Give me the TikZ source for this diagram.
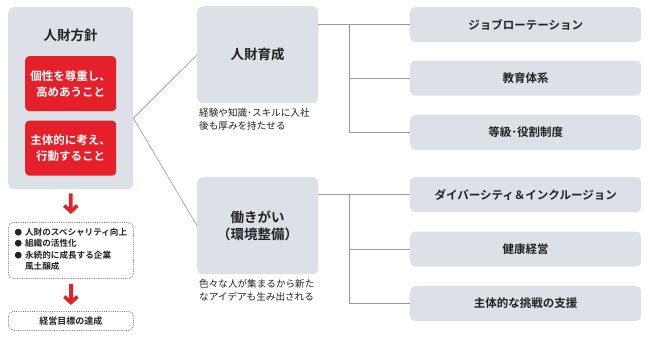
\documentclass[tikz,border=0pt]{standalone}
\usepackage{fontspec}
\setmainfont{Noto Sans CJK JP}[BoldFont={Noto Sans CJK JP Bold}]
\usetikzlibrary{positioning}
\usetikzlibrary{arrows.meta}

\definecolor{panelgray}{HTML}{DCE1E7}
\definecolor{policyred}{HTML}{E5202A}
\definecolor{linegray}{HTML}{9A9A9A}
\definecolor{textdark}{HTML}{222222}

\tikzset{
  panel/.style={fill=panelgray, rounded corners=6pt, inner sep=0pt, text=textdark},
  redbox/.style={fill=policyred, rounded corners=4pt, inner sep=0pt, text=white,
    minimum width=91pt, minimum height=55pt, align=center,
    font=\bfseries\fontsize{11.5}{16}\selectfont},
  itembox/.style={panel, rounded corners=5pt, minimum width=231pt, minimum height=35pt,
    font=\bfseries\fontsize{11.5}{14}\selectfont},
  dotbox/.style={draw=gray, densely dotted, line width=0.8pt, rounded corners=5pt,
    minimum width=125pt, inner sep=0pt, text=textdark},
  caption/.style={align=left, inner sep=0pt, text=textdark,
    font=\fontsize{9.6}{13}\selectfont},
  branch/.style={draw=linegray, line width=0.8pt},
  redarrow/.style={draw=policyred, line width=3.6pt, -{Straight Barb[length=6pt,width=13pt]}}
}

\begin{document}
\begin{tikzpicture}[x=1pt,y=-1pt]
\useasboundingbox (0,0) rectangle (648,339);

% left column: policy
\node[panel, minimum width=125pt, minimum height=182pt, anchor=north west] (policy) at (8,7) {};
\node[font=\bfseries\fontsize{13.5}{16}\selectfont, text=textdark] (policytitle) at (70.5,35) {人財方針};
\node[redbox, anchor=north west] (respect) at (25,56) {個性を尊重し、\\高めあうこと};
\node[redbox, below=9pt of respect] (initiative) {主体的に考え、\\行動すること};

% outcomes
\node[dotbox, minimum height=56pt, anchor=north west,
      font=\bfseries\fontsize{8.6}{11.5}\selectfont] (results) at (8,222) {%
  \begin{tabular}{@{}l@{\hspace{3pt}}l@{}}
  {\fontsize{7.5}{7}\selectfont ●} & 人財のスペシャリティ向上\\
  {\fontsize{7.5}{7}\selectfont ●} & 組織の活性化\\
  {\fontsize{7.5}{7}\selectfont ●} & 永続的に成長する企業\\
   & 風土醸成
  \end{tabular}};
\node[dotbox, minimum height=19pt, anchor=north west,
      font=\bfseries\fontsize{9}{11}\selectfont] (goal) at (8,311) {経営目標の達成};

\draw[redarrow, shorten <=4pt, shorten >=8pt] (policy.south) -- (results.north);
\draw[redarrow, shorten <=5pt, shorten >=6pt] (results.south) -- (goal.north);

% middle column
\node[panel, minimum width=121pt, minimum height=97pt, anchor=north west,
      font=\bfseries\fontsize{13.5}{16}\selectfont] (growth) at (197,6) {人財育成};
\node[caption, below right=5pt and 2pt of growth.south west, anchor=north west] (growthnote)
    {経験や知識･スキルに入社\\後も厚みを持たせる};
\node[panel, minimum width=121pt, minimum height=97pt, anchor=north west, align=center,
      font=\bfseries\fontsize{13.5}{17}\selectfont] (workplace) at (197,177) {働きがい\\（環境整備）};
\node[caption, below right=5pt and 2pt of workplace.south west, anchor=north west] (worknote)
    {色々な人が集まるから新た\\なアイデアも生み出される};

\coordinate[below=20pt of policy.east] (hub);
\draw[branch, line width=0.6pt] (growth.west) -- (hub) -- (workplace.west);

% right column
\node[itembox, anchor=north west] (rotation) at (410,7) {ジョブローテーション};
\node[itembox, below=18pt of rotation] (education) {教育体系};
\node[itembox, below=19pt of education] (grading) {等級･役割制度};
\node[itembox, anchor=north west] (diversity) at (410,177) {ダイバーシティ＆インクルージョン};
\node[itembox, below=19pt of diversity] (health) {健康経営};
\node[itembox, below=19pt of health] (challenge) {主体的な挑戦の支援};

% tree connectors
\coordinate[right=31pt of growth.east] (forkA);
\draw[branch] (growth.east |- rotation.west) -- (rotation.west);
\draw[branch] (forkA |- rotation.west) |- (grading.west);
\draw[branch] (forkA |- education.west) -- (education.west);

\coordinate[right=31pt of workplace.east] (forkB);
\draw[branch] (workplace.east |- diversity.west) -- (diversity.west);
\draw[branch] (forkB |- diversity.west) |- (challenge.west);
\draw[branch] (forkB |- health.west) -- (health.west);
\end{tikzpicture}
\end{document}
